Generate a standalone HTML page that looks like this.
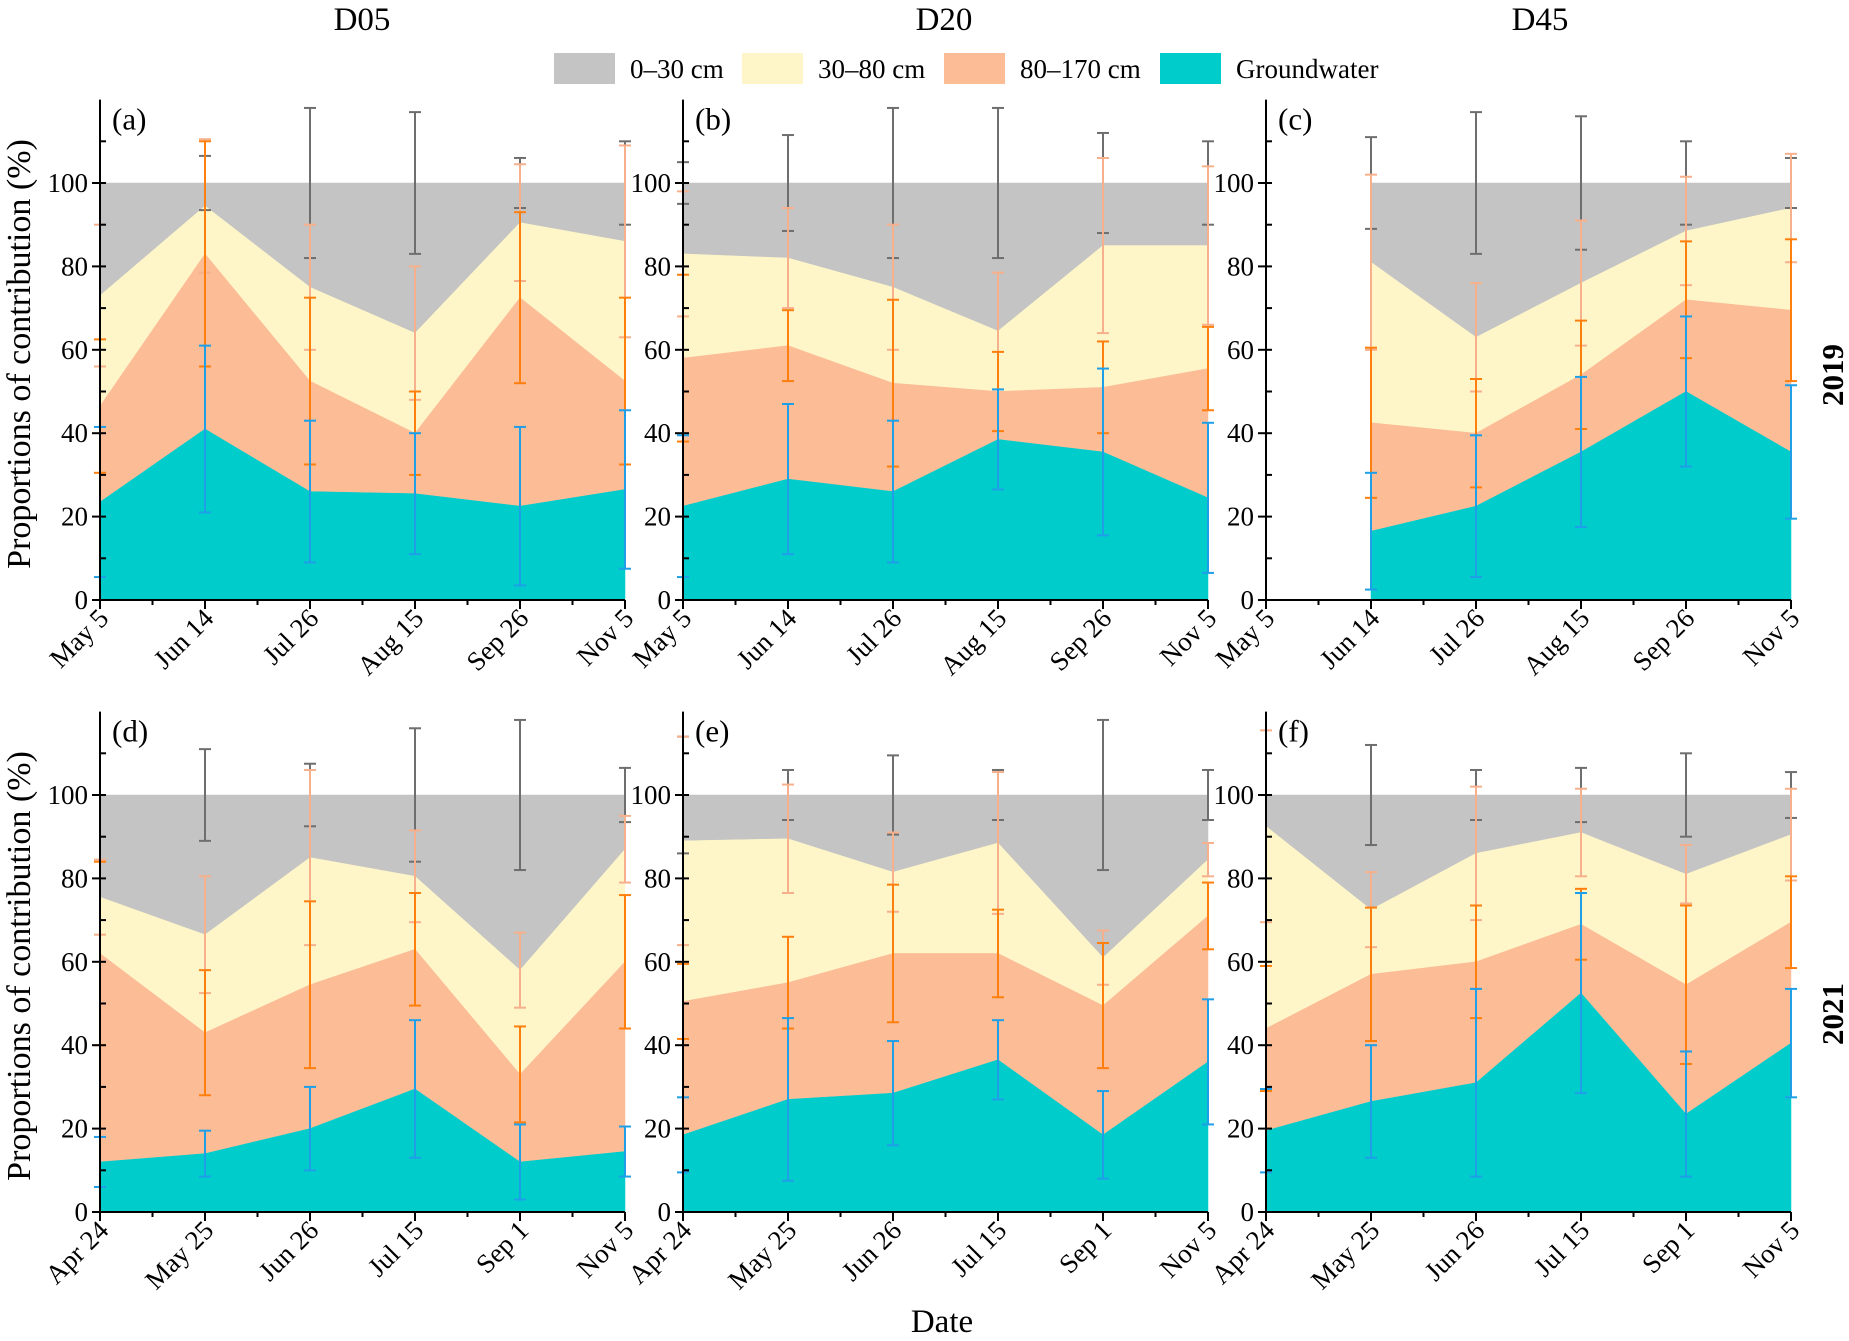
<!DOCTYPE html>
<html><head><meta charset="utf-8">
<style>
html,body{margin:0;padding:0;background:#fff;}
svg, svg text{font-family:"Liberation Serif","Times New Roman","Nimbus Roman","DejaVu Serif",serif;}
</style></head>
<body>
<svg id="chart" width="1849" height="1336" viewBox="0 0 1849 1336" xmlns="http://www.w3.org/2000/svg">
  <g id="titles">
    <text x="362" y="30" font-size="33" text-anchor="middle">D05</text>
    <text x="944" y="30" font-size="33" text-anchor="middle">D20</text>
    <text x="1540" y="30" font-size="33" text-anchor="middle">D45</text>
  </g>
  <g id="legend">
    <rect x="554" y="53" width="61" height="31" fill="#c4c4c4"/>
    <text x="630" y="78" font-size="27">0–30 cm</text>
    <rect x="742" y="53" width="61" height="31" fill="#fef6c8"/>
    <text x="818" y="78" font-size="27">30–80 cm</text>
    <rect x="944" y="53" width="61" height="31" fill="#fbbc96"/>
    <text x="1020" y="78" font-size="27">80–170 cm</text>
    <rect x="1160" y="53" width="61" height="31" fill="#00cccc"/>
    <text x="1236" y="78" font-size="27">Groundwater</text>
  </g>
  <text transform="translate(30,354) rotate(-90)" font-size="34" text-anchor="middle">Proportions of contribution (%)</text>
  <text transform="translate(30,966) rotate(-90)" font-size="34" text-anchor="middle">Proportions of contribution (%)</text>
  <text transform="translate(1843,375) rotate(-90)" font-size="31" font-weight="bold" text-anchor="middle">2019</text>
  <text transform="translate(1843,1014) rotate(-90)" font-size="31" font-weight="bold" text-anchor="middle">2021</text>
  <text x="942" y="1332" font-size="33" text-anchor="middle">Date</text>
  <g id="panels"></g>
</svg>
<script>
// categories
const dates2019 = ["May 5","Jun 14","Jul 26","Aug 15","Sep 26","Nov 5"];
const dates2021 = ["Apr 24","May 25","Jun 26","Jul 15","Sep 1","Nov 5"];
const panelLabels = ["(a)","(b)","(c)","(d)","(e)","(f)"];
const yTicks = [0,20,40,60,80,100];
// cumulative tops: groundwater, +80-170, +30-80 (0-30 fills to 100)
const gwA=[23.5,41,26,25.5,22.5,26.5], deepA=[46.5,83,52.5,40,72.5,52.5], midA=[73,94.5,75,64,90.5,86];
const gwB=[22.5,29,26,38.5,35.5,24.5], deepB=[58,61,52,50,51,55.5], midB=[83,82,75,64.5,85,85];
const gwC=[null,16.5,22.5,35.5,50,35.5], deepC=[null,42.5,40,54,72,69.5], midC=[null,81,63,76,88.5,94];
const gwD=[12,14,20,29.5,12,14.5], deepD=[62,43,54.5,63,33,60], midD=[75.5,66.5,85,80.5,58,87];
const gwE=[18.5,27,28.5,36.5,18.5,36], deepE=[50.5,55,62,62,49.5,71], midE=[89,89.5,81.5,88.5,61,84.5];
const gwF=[19.5,26.5,31,52.5,23.5,40.5], deepF=[44,57,60,69,54.5,69.5], midF=[92.5,72.5,86,91,81,90.5];
// error half-widths
const errGrayA=[0,6.5,18,17,6,10], errMidA=[17,16,15,16,14,23], errDeepA=[16,27,20,10,20.5,20], errGwA=[18,20,17,14.5,19,19];
const errGrayB=[5,11.5,18,18,12,10], errMidB=[15,12,15,14,21,19], errDeepB=[20,8.5,20,9.5,11,10], errGwB=[17,18,17,12,20,18];
const errGrayC=[null,11,17,16,10,6], errMidC=[null,21,13,15,13,13], errDeepC=[null,18,13,13,14,17], errGwC=[null,14,17,18,18,16];
const errGrayD=[0,11,7.5,16,18,6.5], errMidD=[9,14,21,11,9,8], errDeepD=[22,15,20,13.5,11.5,16], errGwD=[6,5.5,10,16.5,9,6];
const errGrayE=[14,6,9.5,6,18,6], errMidE=[25,13,9.5,17,6.5,4], errDeepE=[9,11,16.5,10.5,15,8], errGwE=[9,19.5,12.5,9.5,10.5,15];
const errGrayF=[0,12,6,6.5,10,5.5], errMidF=[23,9,16,10.5,7,11], errDeepF=[15,16,13.5,8.5,19,11], errGwF=[10,13.5,22.5,24,15,13];

const panels=[
 {col:0,row:0,dates:dates2019,gw:gwA,deep:deepA,mid:midA,eg:errGrayA,em:errMidA,ed:errDeepA,ew:errGwA},
 {col:1,row:0,dates:dates2019,gw:gwB,deep:deepB,mid:midB,eg:errGrayB,em:errMidB,ed:errDeepB,ew:errGwB},
 {col:2,row:0,dates:dates2019,gw:gwC,deep:deepC,mid:midC,eg:errGrayC,em:errMidC,ed:errDeepC,ew:errGwC},
 {col:0,row:1,dates:dates2021,gw:gwD,deep:deepD,mid:midD,eg:errGrayD,em:errMidD,ed:errDeepD,ew:errGwD},
 {col:1,row:1,dates:dates2021,gw:gwE,deep:deepE,mid:midE,eg:errGrayE,em:errMidE,ed:errDeepE,ew:errGwE},
 {col:2,row:1,dates:dates2021,gw:gwF,deep:deepF,mid:midF,eg:errGrayF,em:errMidF,ed:errDeepF,ew:errGwF}
];
const NS="http://www.w3.org/2000/svg";
const root=document.getElementById('panels');
function mk(tag,attrs,parent){const e=document.createElementNS(NS,tag);for(const k in attrs)e.setAttribute(k,attrs[k]);parent.appendChild(e);return e;}
const colLeft=[100,683,1266], W=525;
const rowZero=[600,1212], unit=4.17, yMax=120;

panels.forEach((p,pi)=>{
  const g=mk('g',{},root);
  
  
  const L=colLeft[p.col], Z=rowZero[p.row];
  const n=p.dates.length;
  const xs=i=>L+W*i/(n-1);
  const ys=v=>Z-v*unit;
  const idx=[];for(let i=0;i<n;i++) if(p.gw[i]!==null) idx.push(i);
  function band(lower,upper,fill,name){
    let pts=idx.map(i=>xs(i)+','+ys(upper(i)));
    pts=pts.concat(idx.slice().reverse().map(i=>xs(i)+','+ys(lower(i))));
    const pg=mk('polygon',{points:pts.join(' '),fill:fill,stroke:fill,'stroke-width':0.5},g);
    
    
  }
  band(i=>p.mid[i],i=>100,'#c4c4c4','area-0-30');
  band(i=>p.deep[i],i=>p.mid[i],'#fef6c8','area-30-80');
  band(i=>p.gw[i],i=>p.deep[i],'#fbbc96','area-80-170');
  band(i=>0,i=>p.gw[i],'#00cccc','area-groundwater');
  function eb(center,err,color,name){
    idx.forEach(i=>{
      const e=err[i]; if(!e) return;
      const x=xs(i), y1=ys(Math.min(center(i)+e,yMax)), y2=ys(Math.max(center(i)-e,0));
      const eg=mk('g',{stroke:color,'stroke-width':2},g);
      
      
      mk('line',{x1:x,x2:x,y1:y1,y2:y2},eg);
      mk('line',{x1:x-6,x2:x+6,y1:y1,y2:y1},eg);
      mk('line',{x1:x-6,x2:x+6,y1:y2,y2:y2},eg);
    });
  }
  eb(i=>100,p.eg,'#6e6e6e','error-bar-0-30');
  eb(i=>p.mid[i],p.em,'#f7b08c','error-bar-30-80');
  eb(i=>p.deep[i],p.ed,'#ff7f0e','error-bar-80-170');
  eb(i=>p.gw[i],p.ew,'#1e9fe8','error-bar-groundwater');
  if(idx[0]>0){mk('line',{x1:xs(0),x2:xs(idx[0]),y1:Z,y2:Z,stroke:'#000','stroke-width':1.5},g);}
  const ax=mk('g',{stroke:'#000','stroke-width':2},g);
  
  
  mk('line',{x1:L,x2:L,y1:ys(yMax),y2:Z},ax);
  mk('line',{x1:L,x2:L+W,y1:Z,y2:Z},ax);
  for(let v=0;v<=110;v+=10){
    const major=v%20===0;
    mk('line',{x1:major?L-8:L,x2:L+6,y1:ys(v),y2:ys(v)},ax);
  }
  for(let i=0;i<n;i++){
    mk('line',{x1:xs(i),x2:xs(i),y1:Z,y2:Z+9},ax);
    if(i<n-1){const xm=(xs(i)+xs(i+1))/2;mk('line',{x1:xm,x2:xm,y1:Z,y2:Z+5},ax);}
  }
  yTicks.forEach(v=>{
    const t=mk('text',{x:L-12,y:ys(v)+9,'font-size':27,'text-anchor':'end'},g);
    t.textContent=v;
    
    
  });
  p.dates.forEach((d,i)=>{
    const t=mk('text',{transform:`translate(${xs(i)+10},${Z+20}) rotate(-45)`,'font-size':27,'text-anchor':'end'},g);
    t.textContent=d;
    
    
  });
  const lab=mk('text',{x:L+12,y:ys(yMax)+30,'font-size':31},g);
  lab.textContent=panelLabels[pi];
  
  
});
</script>
</body></html>
